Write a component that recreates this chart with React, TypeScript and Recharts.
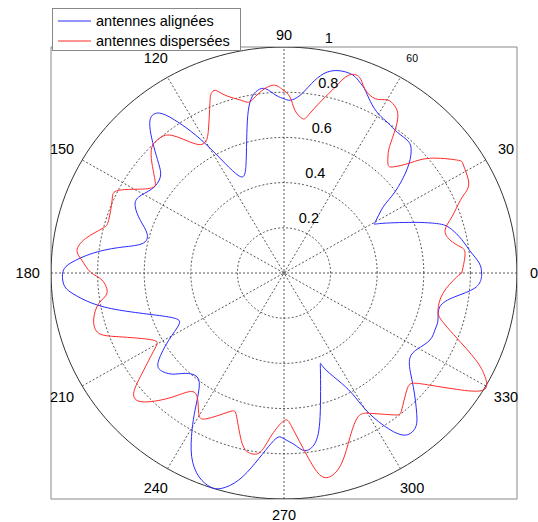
import { LineChart, Line, XAxis, YAxis, ReferenceDot, ReferenceArea } from 'recharts';

// [angle in degrees, radius]
const ALIGNEES: [number, number][] = [
  [0, 0.848], [3, 0.839], [7, 0.804], [11, 0.777], [15, 0.745], [17, 0.722], [18.5, 0.69], [22, 0.598],
  [28, 0.466], [30, 0.452], [34.5, 0.517], [37, 0.596], [41, 0.7], [44.5, 0.765], [47.5, 0.79], [52, 0.79],
  [56, 0.8], [60, 0.812], [64, 0.845], [67, 0.885], [69, 0.905], [71.5, 0.925], [75.5, 0.925], [79, 0.899],
  [82, 0.846], [85, 0.789], [88, 0.765], [90, 0.771], [92.5, 0.787], [95.5, 0.819], [98, 0.816], [100, 0.791],
  [102, 0.736], [104.5, 0.637], [108, 0.525], [111.5, 0.465], [114.5, 0.475], [117.5, 0.546], [120.5, 0.663],
  [123.3, 0.773], [126, 0.864], [128, 0.896], [130, 0.892], [132.3, 0.853], [135, 0.79], [138, 0.724],
  [141.3, 0.68], [146.7, 0.678], [151.7, 0.709], [155.4, 0.702], [159.3, 0.659], [163.5, 0.613], [168, 0.623],
  [171, 0.719], [174, 0.828], [177, 0.911], [179.5, 0.948], [183, 0.947], [185.6, 0.914], [189.2, 0.835],
  [193, 0.728], [198, 0.596], [203.3, 0.508], [207, 0.507], [211, 0.577], [215.6, 0.661], [219, 0.683],
  [223, 0.656], [226.3, 0.614], [231, 0.592], [234.8, 0.634], [237.8, 0.716], [240.4, 0.799], [244, 0.904],
  [248, 0.973], [251.5, 0.998], [254.3, 0.99], [258, 0.937], [261.6, 0.851], [265, 0.772], [268, 0.727],
  [270.3, 0.736], [273.5, 0.762], [276.5, 0.791], [280, 0.765], [283.7, 0.654], [290, 0.457], [292, 0.448],
  [296, 0.528], [298.7, 0.607], [300.1, 0.7], [302.3, 0.796], [305.5, 0.881], [309.3, 0.888], [312.5, 0.843],
  [317.8, 0.749], [324, 0.665], [329.5, 0.664], [334.7, 0.693], [339, 0.695], [342.5, 0.693], [347.4, 0.685],
  [351.8, 0.74], [355.3, 0.821], [358.4, 0.847], [360, 0.848],
];

const DISPERSEES: [number, number][] = [
  [0, 0.763], [6.4, 0.782], [8.8, 0.764], [11.6, 0.727], [15.4, 0.717], [19, 0.762], [23, 0.822], [25, 0.866],
  [27.5, 0.892], [31.8, 0.906], [34, 0.894], [39, 0.807], [42, 0.728], [45, 0.664], [47, 0.655], [49, 0.68],
  [51, 0.72], [53.2, 0.8], [55.3, 0.858], [57.5, 0.88], [60, 0.885], [63, 0.865], [67, 0.886], [69.5, 0.925],
  [72.5, 0.917], [75, 0.852], [78, 0.781], [81.5, 0.706], [83.4, 0.688], [86.3, 0.722], [88.1, 0.779],
  [90.7, 0.815], [93.6, 0.832], [97.9, 0.801], [100.9, 0.771], [103.4, 0.785], [107.8, 0.826], [110, 0.86],
  [111.5, 0.853], [113, 0.814], [117.2, 0.71], [120.2, 0.671], [123.7, 0.687], [128.3, 0.776], [132.2, 0.801],
  [135.5, 0.795], [139.5, 0.745], [144.4, 0.679], [146, 0.679], [148, 0.702], [152.7, 0.798], [156.4, 0.805],
  [162.8, 0.788], [165.9, 0.805], [169.9, 0.866], [173.6, 0.894], [176.3, 0.869], [179.7, 0.831], [182.3, 0.782],
  [186.7, 0.765], [189.6, 0.806], [194.3, 0.843], [198.5, 0.839], [201.7, 0.763], [207.6, 0.639], [211.2, 0.649],
  [216.1, 0.754], [219.5, 0.836], [223.1, 0.834], [228.2, 0.743], [232.1, 0.666], [235.7, 0.662], [239.5, 0.721],
  [242.7, 0.726], [249, 0.658], [252.3, 0.668], [256.6, 0.775], [259.8, 0.811], [262.8, 0.797], [265.8, 0.719],
  [270.1, 0.653], [272.8, 0.681], [276.5, 0.796], [279.4, 0.898], [282.3, 0.923], [286.4, 0.877], [291.4, 0.778],
  [296.6, 0.711], [299.3, 0.712], [300.7, 0.722], [306.8, 0.784], [309.8, 0.789], [315.5, 0.739], [318.7, 0.739],
  [321.6, 0.799], [325.2, 0.902], [328.8, 1.0], [332, 0.977], [335, 0.907], [339, 0.79], [342.9, 0.706],
  [346.1, 0.681], [352.5, 0.688], [358.5, 0.74], [360, 0.763],
];

const SERIES_NAMES = ['antennes alignées', 'antennes dispersées'];
const RINGS = [0.2, 0.4, 0.6, 0.8];
const RING_LABELS = ['0.2', '0.4', '0.6', '0.8', '1'];
const SPOKES = [0, 30, 60, 90, 120, 150];
const ANGLE_LABELS = [0, 30, 60, 90, 120, 150, 180, 210, 240, 270, 300, 330];

const BLUE = '#2b2bff';
const RED = '#ff2b2b';
const GRID = '#444';
const FONT = '"Liberation Sans", Arial, sans-serif';

const rad = (d: number) => (d * Math.PI) / 180;
const toXY = (pts: [number, number][]) =>
  pts.map(([a, r]) => ({ x: r * Math.cos(rad(a)), y: r * Math.sin(rad(a)) }));

// circle outline for a grid ring
const ring = (r: number) =>
  Array.from({ length: 181 }, (_, i) => ({ x: r * Math.cos(rad(i * 2)), y: r * Math.sin(rad(i * 2)) }));

// where the angle labels sit (the picture is cropped a little at top / bottom / right)
const labelRadius = (a: number) => (a === 0 ? 1.073 : a === 90 ? 1.053 : a === 270 ? 1.071 : 1.1);

export default function App() {
  return (
    <div style={{ position: 'absolute', left: 0, top: 0, width: 538, height: 522, background: '#fff' }}>
      <LineChart width={538} height={522} margin={{ top: 47, right: 21, bottom: 23, left: 51 }}>
        <XAxis type="number" dataKey="x" domain={[-1, 1]} hide allowDataOverflow />
        <YAxis type="number" dataKey="y" domain={[-1, 1]} hide allowDataOverflow />
        <ReferenceArea x1={-1} x2={1} y1={-1} y2={1} fill="none" stroke="#888" strokeWidth={1} />
        {RINGS.map((r) => (
          <Line
            key={'ring' + r}
            data={ring(r)}
            dataKey="y"
            type="linear"
            stroke={GRID}
            strokeWidth={0.9}
            strokeDasharray="2 2"
            dot={false}
            legendType="none"
            isAnimationActive={false}
          />
        ))}
        {SPOKES.map((a) => (
          <Line
            key={'spoke' + a}
            data={[
              { x: -Math.cos(rad(a)), y: -Math.sin(rad(a)) },
              { x: Math.cos(rad(a)), y: Math.sin(rad(a)) },
            ]}
            dataKey="y"
            type="linear"
            stroke={GRID}
            strokeWidth={0.9}
            strokeDasharray="2 2"
            dot={false}
            legendType="none"
            isAnimationActive={false}
          />
        ))}
        <Line
          data={ring(1)}
          dataKey="y"
          type="linear"
          stroke="#333"
          strokeWidth={1}
          dot={false}
          legendType="none"
          isAnimationActive={false}
        />
        <Line
          data={toXY(ALIGNEES)}
          dataKey="y"
          name={SERIES_NAMES[0]}
          type="natural"
          stroke={BLUE}
          strokeWidth={1}
          dot={false}
          isAnimationActive={false}
        />
        <Line
          data={toXY(DISPERSEES)}
          dataKey="y"
          name={SERIES_NAMES[1]}
          type="natural"
          stroke={RED}
          strokeWidth={1}
          dot={false}
          isAnimationActive={false}
        />
        {ANGLE_LABELS.map((a) => (
          <ReferenceDot
            key={'al' + a}
            x={labelRadius(a) * Math.cos(rad(a))}
            y={labelRadius(a) * Math.sin(rad(a))}
            ifOverflow="visible"
            shape={(p: any) => (
              <text
                x={p.cx}
                y={p.cy}
                textAnchor="middle"
                dominantBaseline="central"
                fontSize={a === 60 ? 10.5 : 14.5}
                fontFamily={FONT}
                fill="#000"
              >
                {a}
              </text>
            )}
          />
        ))}
        {RING_LABELS.map((t) => {
          const r = Number(t) + 0.01;
          return (
            <ReferenceDot
              key={'rl' + t}
              x={r * Math.cos(rad(82))}
              y={r * Math.sin(rad(82))}
              ifOverflow="visible"
              shape={(p: any) => (
                <text x={p.cx + 8} y={p.cy - 3.5} textAnchor="start" fontSize={14.5} fontFamily={FONT} fill="#000">
                  {t}
                </text>
              )}
            />
          );
        })}
      </LineChart>
      <div
        style={{
          position: 'absolute',
          left: 52,
          top: 8,
          width: 187,
          height: 41,
          border: '1px solid #888',
          background: '#fff',
          fontFamily: FONT,
          fontSize: 14.5,
          color: '#000',
        }}
      >
        {SERIES_NAMES.map((name, i) => (
          <div key={name} style={{ position: 'absolute', left: 0, top: 2 + i * 20, height: 20, display: 'flex', alignItems: 'center' }}>
            <svg width={43} height={20} style={{ display: 'block' }}>
              <line x1={5} x2={38} y1={10} y2={10} stroke={i === 0 ? BLUE : RED} strokeWidth={1} />
            </svg>
            <span style={{ whiteSpace: 'nowrap' }}>{name}</span>
          </div>
        ))}
      </div>
    </div>
  );
}
